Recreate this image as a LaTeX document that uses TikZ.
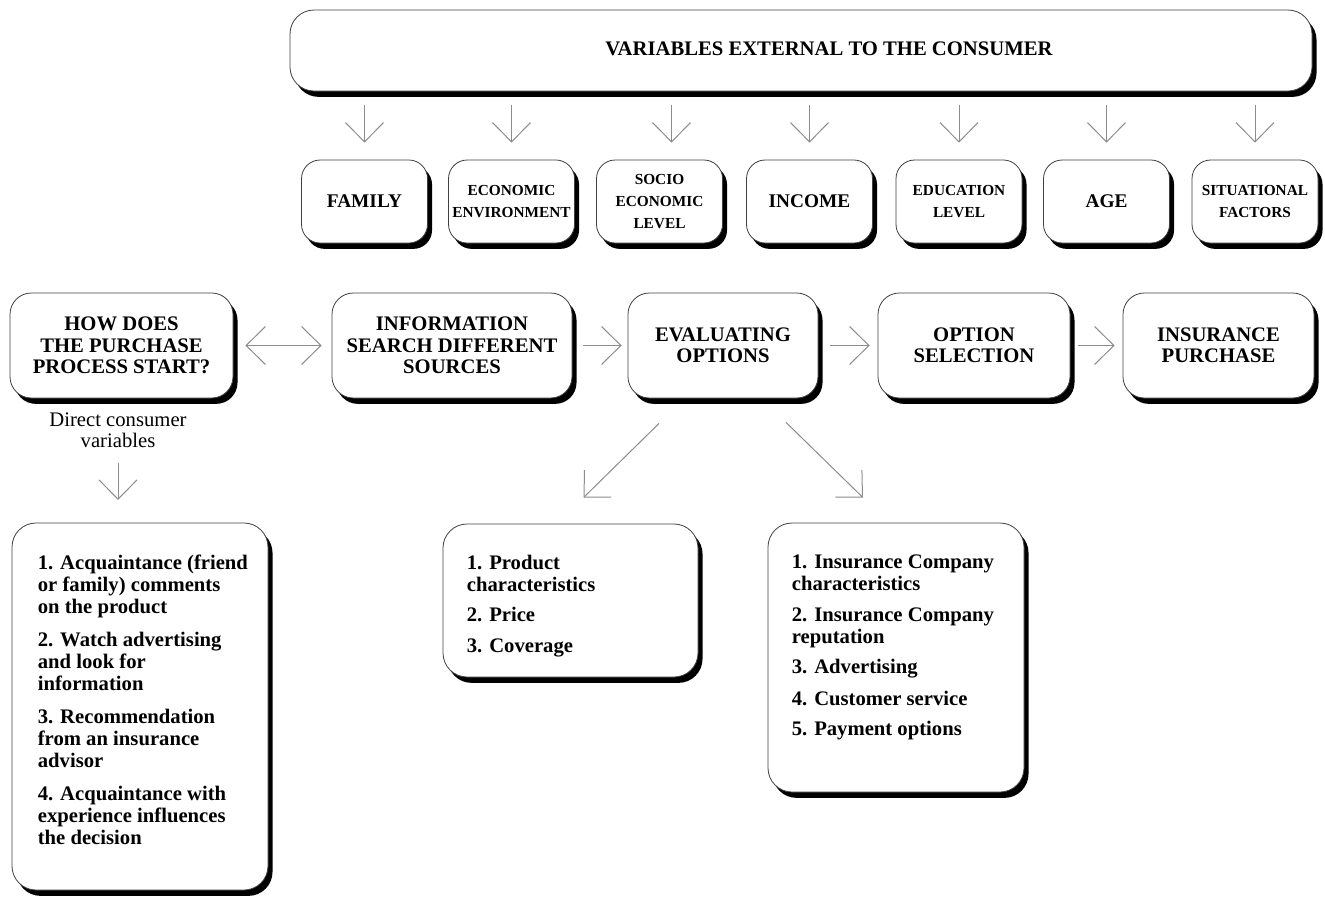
\documentclass[tikz,border=0pt]{standalone}
\usepackage{fontspec}
\setmainfont{Liberation Serif}
\usetikzlibrary{arrows.meta,shadows,calc}
\newdimen\pxu \pxu=0.75pt
\begin{document}
\begin{tikzpicture}[x=0.75pt,y=-0.75pt,
  card/.style={draw=black!75, line width=0.6pt, fill=white, rounded corners=15pt,
     drop shadow={shadow xshift=3.4pt, shadow yshift=-4.4pt, fill=black, opacity=1},
     align=center, inner sep=0pt, font=\bfseries},
  stage/.style={card, minimum height=105*\pxu, rounded corners=16pt,
     font=\bfseries\fontsize{15.5}{16}\selectfont},
  factor/.style={card, minimum width=126*\pxu, minimum height=83*\pxu, rounded corners=14pt,
     font=\bfseries\fontsize{11.5}{16.2}\selectfont},
  bigfactor/.style={factor, font=\bfseries\fontsize{14.5}{16}\selectfont},
  listbox/.style={card, rounded corners=18pt},
  listtext/.style={anchor=north west, inner sep=0pt, align=left,
     font=\bfseries\fontsize{15.5}{16.5}\selectfont},
  flow/.style={draw=black!45, line width=0.75pt, -{Straight Barb[length=14.5pt,width=28.5pt]}},
  dflow/.style={flow, {Straight Barb[length=14.5pt,width=28.5pt]}-{Straight Barb[length=14.5pt,width=28.5pt]}},
]
\useasboundingbox (0,0) rectangle (1325,904);

% external variables
\node[card, minimum width=1022*\pxu, minimum height=81*\pxu, rounded corners=18pt] (top) at (801,50.5) {};
\node[font=\bfseries\fontsize{15.5}{18}\selectfont, inner sep=0pt] (toptitle) at (829,49)
  {VARIABLES EXTERNAL TO THE CONSUMER};

\node[bigfactor] (fam)    at (364.5,201.5) {FAMILY};
\node[factor]    (econ)   at (511.5,201.5) {ECONOMIC\\ENVIRONMENT};
\node[factor]    (socio)  at (659.5,201.5) {SOCIO\\ECONOMIC\\LEVEL};
\node[bigfactor] (income) at (809.5,201.5) {INCOME};
\node[factor]    (edu)    at (959,201.5)   {EDUCATION\\LEVEL};
\node[bigfactor] (age)    at (1106.5,201.5){AGE};
\node[factor]    (sit)    at (1255,201.5)  {SITUATIONAL\\FACTORS};

\foreach \n in {fam,econ,income,edu,age,sit}
  \draw[flow, shorten <=10.5pt, shorten >=12.75pt] (top.south -| \n.north) -- (\n.north);
\draw[flow, shorten <=10.5pt, shorten >=12.75pt]
  ([xshift=9pt]top.south -| socio.north) -- ([xshift=9pt]socio.north);

% purchase process
\node[stage, minimum width=223*\pxu] (start)    at (121.5,345.5) {HOW DOES\\THE PURCHASE\\PROCESS START?};
\node[stage, minimum width=240*\pxu] (info)     at (452,345.5)   {INFORMATION\\SEARCH DIFFERENT\\SOURCES};
\node[stage, minimum width=190*\pxu] (eval)     at (723,345.5)   {EVALUATING\\OPTIONS};
\node[stage, minimum width=192*\pxu] (option)   at (974,345.5)   {OPTION\\SELECTION};
\node[stage, minimum width=191*\pxu] (purchase) at (1218.5,345.5){INSURANCE\\PURCHASE};

\draw[dflow, shorten <=9pt, shorten >=7.5pt] (start.east) -- (info.west);
\draw[flow, shorten <=8pt, shorten >=4.5pt] (info.east) -- (eval.west);
\draw[flow, shorten <=9pt, shorten >=6pt] (eval.east) -- (option.west);
\draw[flow, shorten <=5.5pt, shorten >=6pt] (option.east) -- (purchase.west);

% direct consumer variables
\node[font=\fontsize{15.5}{16}\selectfont, align=center, inner sep=2pt] (direct) at (118,430)
  {Direct consumer\\variables};

\node[listbox, minimum width=256*\pxu, minimum height=367*\pxu] (leftlist) at (140,706.5) {};
\node[listtext] (lefttext) at ($(leftlist.north west)+(26,32)$)
  {1. Acquaintance (friend\\or family) comments\\on the product\\[8pt]
   2. Watch advertising\\and look for\\information\\[8.5pt]
   3. Recommendation\\from an insurance\\advisor\\[8.5pt]
   4. Acquaintance with\\experience influences\\the decision};

\draw[flow, shorten <=9pt, shorten >=17pt] (direct.south) -- (direct.south |- leftlist.north);

% option criteria
\node[listbox, minimum width=255*\pxu, minimum height=153*\pxu] (mid) at (570.5,600.5) {};
\node[listtext] (midtext) at ($(mid.north west)+(24,31)$)
  {1. Product\\characteristics\\[6pt]2. Price\\[7pt]3. Coverage};

\node[listbox, minimum width=256*\pxu, minimum height=269*\pxu] (right) at (896,657.5) {};
\node[listtext] (righttext) at ($(right.north west)+(24,32)$)
  {1. Insurance Company\\characteristics\\[7pt]
   2. Insurance Company\\reputation\\[6pt]
   3. Advertising\\[7pt]
   4. Customer service\\[6pt]
   5. Payment options};

\draw[flow] ($(eval.south)+(-64,25)$) -- ($(mid.north)+(13,-26)$);
\draw[flow] ($(eval.south)+(63,24)$) -- ($(right.north)+(-33,-25)$);
\end{tikzpicture}
\end{document}
